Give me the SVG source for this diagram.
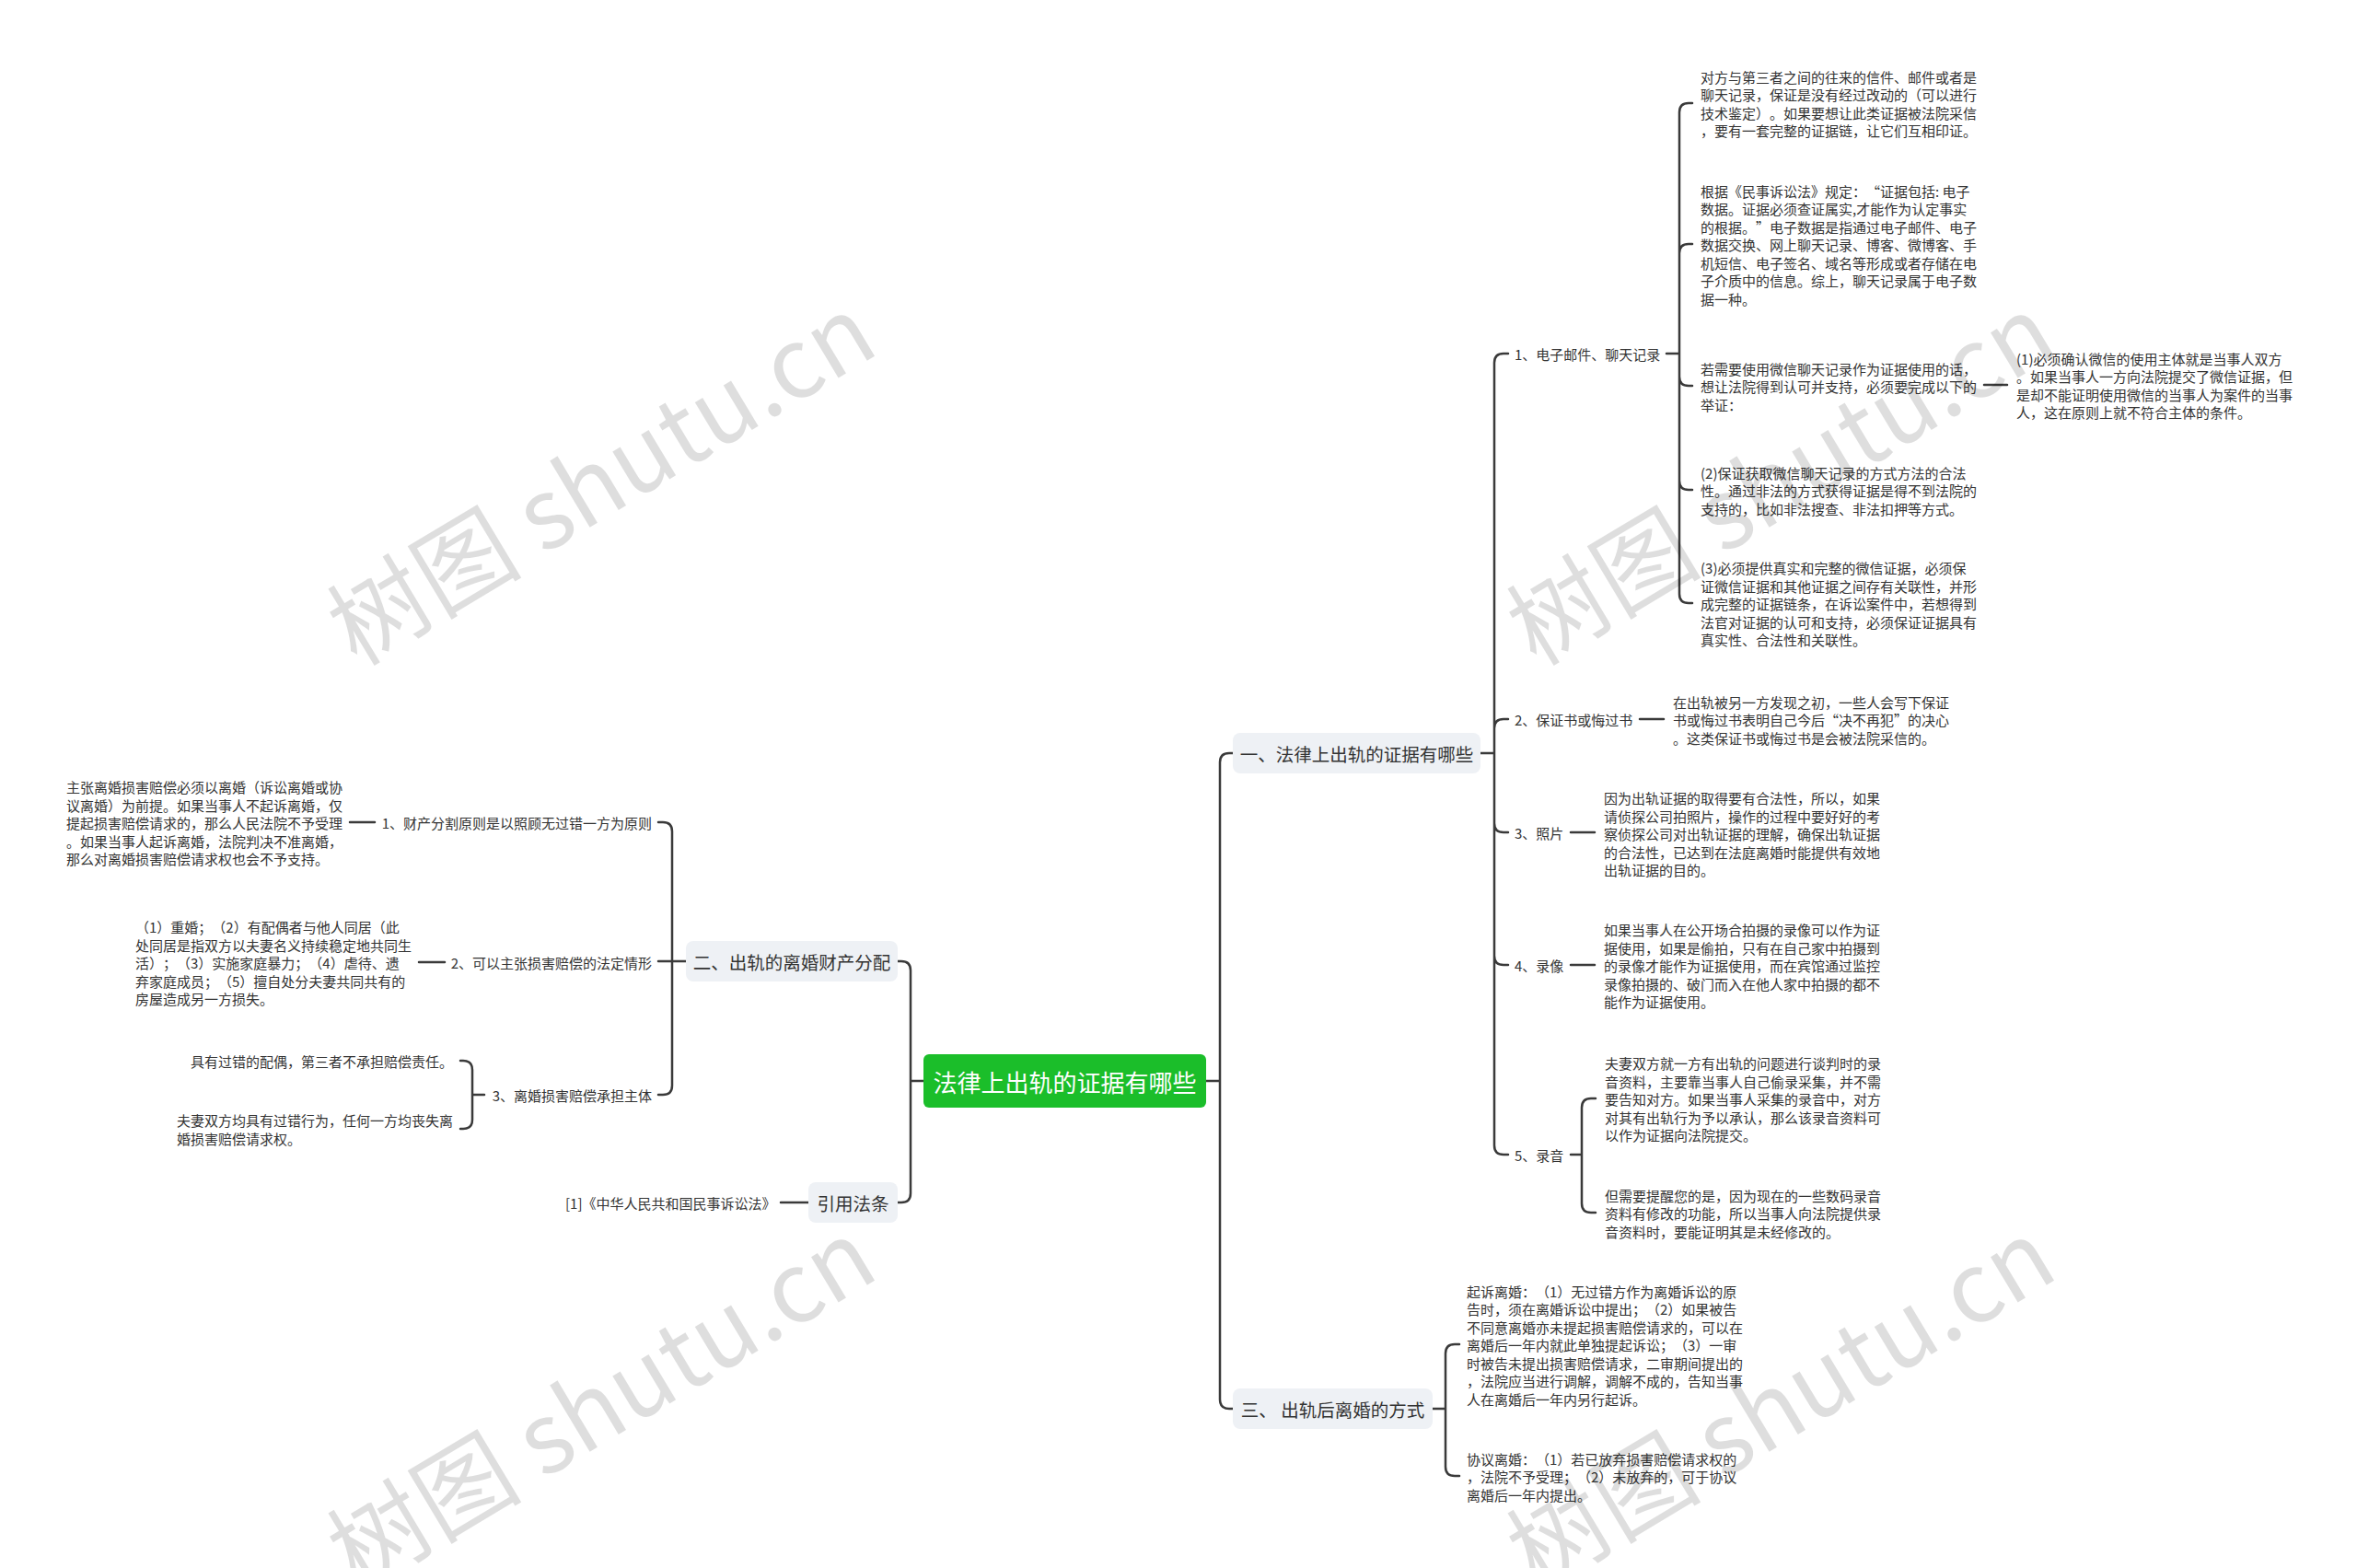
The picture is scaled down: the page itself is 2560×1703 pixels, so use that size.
<svg xmlns="http://www.w3.org/2000/svg" width="2560" height="1703" viewBox="0 0 2560 1703">
<style>
text{font-family:"Noto Sans CJK SC","Noto Sans",sans-serif;dominant-baseline:central;fill:#333;text-spacing-trim:space-all}
.t{font-size:15px}
.br{font-size:19.5px;text-anchor:middle}
.rt{font-size:26px;fill:#fff;text-anchor:middle}
.box{fill:#eef1f5}
.c path{fill:none;stroke:#3a3a3a;stroke-width:2.5;stroke-linecap:round}
.wm{font-size:106px;fill:#000;fill-opacity:.13;text-anchor:middle}
</style>
<rect width="2560" height="1703" fill="#fff"/>
<g id="connectors" class="c">
<path d="M1310,1174 H1325 M1325,1174 V828 Q1325,818 1335,818 H1339 M1325,1174 V1520 Q1325,1530 1335,1530 H1339"/>
<path d="M1003,1174 H989 M989,1174 V1054 Q989,1044 979,1044 H975 M989,1174 V1296 Q989,1306 979,1306 H975"/>
<path d="M1608,818 H1623 M1623,818 V394 Q1623,384 1633,384 H1638 M1623,818 V791 Q1623,781 1633,781 H1638 M1623,818 V894 Q1623,904 1633,904 H1638 M1623,818 V1038 Q1623,1048 1633,1048 H1638 M1623,818 V1244 Q1623,1254 1633,1254 H1638"/>
<path d="M1810,384 H1824 M1824,384 V122 Q1824,112 1834,112 H1838 M1824,384 V275 Q1824,265 1834,265 H1838 M1824,384 V409 Q1824,419 1834,419 H1838 M1824,384 V522 Q1824,532 1834,532 H1838 M1824,384 V645 Q1824,655 1834,655 H1838"/>
<path d="M2155,418 H2180"/>
<path d="M1781,781 H1807"/>
<path d="M1706,904 H1732"/>
<path d="M1706,1048 H1732"/>
<path d="M1706,1254 H1718 M1718,1254 V1203 Q1718,1193 1728,1193 H1733 M1718,1254 V1307 Q1718,1317 1728,1317 H1733"/>
<path d="M1556,1530 H1570 M1570,1530 V1470 Q1570,1460 1580,1460 H1585 M1570,1530 V1593 Q1570,1603 1580,1603 H1585"/>
<path d="M745,1044 H730 M730,1044 V903 Q730,893 720,893 H715 M730,1044 H715 M730,1044 V1179 Q730,1189 720,1189 H715"/>
<path d="M407,893 H380"/>
<path d="M483,1045 H455"/>
<path d="M526,1189 H513 M513,1189 V1162 Q513,1152 503,1152 H500 M513,1189 V1216 Q513,1226 503,1226 H500"/>
<path d="M848,1306 H878"/>
</g>
<g id="root">
<rect x="1003" y="1145" width="307" height="58" rx="6" fill="#1bbe2a"/>
<text class="rt" x="1156.5" y="1174">法律上出轨的证据有哪些</text>
</g>
<g id="b1">
<rect class="box" x="1339" y="796" width="269" height="44" rx="8"/>
<text class="br" x="1473.5" y="818">一、法律上出轨的证据有哪些</text>
</g>
<g id="b3">
<rect class="box" x="1339" y="1508" width="217" height="44" rx="8"/>
<text class="br" x="1447.5" y="1530">三、 出轨后离婚的方式</text>
</g>
<g id="b2">
<rect class="box" x="745" y="1022" width="230" height="44" rx="8"/>
<text class="br" x="860" y="1044">二、出轨的离婚财产分配</text>
</g>
<g id="b4">
<rect class="box" x="878" y="1284" width="97" height="44" rx="8"/>
<text class="br" x="926.5" y="1306">引用法条</text>
</g>
<g id="n1-1"><text class="t" x="1645" y="384">1、电子邮件、聊天记录</text></g>
<g id="n1-1a"><text class="t"><tspan x="1847" y="82.75">对方与第三者之间的往来的信件、邮件或者是</tspan><tspan x="1847" y="102.25">聊天记录，保证是没有经过改动的（可以进行</tspan><tspan x="1847" y="121.75">技术鉴定）。如果要想让此类证据被法院采信</tspan><tspan x="1847" y="141.25">，要有一套完整的证据链，让它们互相印证。</tspan></text></g>
<g id="n1-1b"><text class="t"><tspan x="1847" y="206.5">根据《民事诉讼法》规定：“证据包括: 电子</tspan><tspan x="1847" y="226">数据。证据必须查证属实,才能作为认定事实</tspan><tspan x="1847" y="245.5">的根据。”电子数据是指通过电子邮件、电子</tspan><tspan x="1847" y="265">数据交换、网上聊天记录、博客、微博客、手</tspan><tspan x="1847" y="284.5">机短信、电子签名、域名等形成或者存储在电</tspan><tspan x="1847" y="304">子介质中的信息。综上，聊天记录属于电子数</tspan><tspan x="1847" y="323.5">据一种。</tspan></text></g>
<g id="n1-1c"><text class="t"><tspan x="1847" y="399.5">若需要使用微信聊天记录作为证据使用的话，</tspan><tspan x="1847" y="419">想让法院得到认可并支持，必须要完成以下的</tspan><tspan x="1847" y="438.5">举证：</tspan></text></g>
<g id="n1-1c1"><text class="t"><tspan x="2190" y="388.75">(1)必须确认微信的使用主体就是当事人双方</tspan><tspan x="2190" y="408.25">。如果当事人一方向法院提交了微信证据，但</tspan><tspan x="2190" y="427.75">是却不能证明使用微信的当事人为案件的当事</tspan><tspan x="2190" y="447.25">人，这在原则上就不符合主体的条件。</tspan></text></g>
<g id="n1-1d"><text class="t"><tspan x="1847" y="512.5">(2)保证获取微信聊天记录的方式方法的合法</tspan><tspan x="1847" y="532">性。通过非法的方式获得证据是得不到法院的</tspan><tspan x="1847" y="551.5">支持的，比如非法搜查、非法扣押等方式。</tspan></text></g>
<g id="n1-1e"><text class="t"><tspan x="1847" y="616">(3)必须提供真实和完整的微信证据，必须保</tspan><tspan x="1847" y="635.5">证微信证据和其他证据之间存有关联性，并形</tspan><tspan x="1847" y="655">成完整的证据链条，在诉讼案件中，若想得到</tspan><tspan x="1847" y="674.5">法官对证据的认可和支持，必须保证证据具有</tspan><tspan x="1847" y="694">真实性、合法性和关联性。</tspan></text></g>
<g id="n1-2"><text class="t" x="1645" y="781">2、保证书或悔过书</text></g>
<g id="n1-2a"><text class="t"><tspan x="1817" y="761.5">在出轨被另一方发现之初，一些人会写下保证</tspan><tspan x="1817" y="781">书或悔过书表明自己今后“决不再犯”的决心</tspan><tspan x="1817" y="800.5">。这类保证书或悔过书是会被法院采信的。</tspan></text></g>
<g id="n1-3"><text class="t" x="1645" y="904">3、照片</text></g>
<g id="n1-3a"><text class="t"><tspan x="1742" y="866">因为出轨证据的取得要有合法性，所以，如果</tspan><tspan x="1742" y="885.5">请侦探公司拍照片，操作的过程中要好好的考</tspan><tspan x="1742" y="905">察侦探公司对出轨证据的理解，确保出轨证据</tspan><tspan x="1742" y="924.5">的合法性，已达到在法庭离婚时能提供有效地</tspan><tspan x="1742" y="944">出轨证据的目的。</tspan></text></g>
<g id="n1-4"><text class="t" x="1645" y="1048">4、录像</text></g>
<g id="n1-4a"><text class="t"><tspan x="1742" y="1009">如果当事人在公开场合拍摄的录像可以作为证</tspan><tspan x="1742" y="1028.5">据使用，如果是偷拍，只有在自己家中拍摄到</tspan><tspan x="1742" y="1048">的录像才能作为证据使用，而在宾馆通过监控</tspan><tspan x="1742" y="1067.5">录像拍摄的、破门而入在他人家中拍摄的都不</tspan><tspan x="1742" y="1087">能作为证据使用。</tspan></text></g>
<g id="n1-5"><text class="t" x="1645" y="1254">5、录音</text></g>
<g id="n1-5a"><text class="t"><tspan x="1743" y="1154">夫妻双方就一方有出轨的问题进行谈判时的录</tspan><tspan x="1743" y="1173.5">音资料，主要靠当事人自己偷录采集，并不需</tspan><tspan x="1743" y="1193">要告知对方。如果当事人采集的录音中，对方</tspan><tspan x="1743" y="1212.5">对其有出轨行为予以承认，那么该录音资料可</tspan><tspan x="1743" y="1232">以作为证据向法院提交。</tspan></text></g>
<g id="n1-5b"><text class="t"><tspan x="1743" y="1297.5">但需要提醒您的是，因为现在的一些数码录音</tspan><tspan x="1743" y="1317">资料有修改的功能，所以当事人向法院提供录</tspan><tspan x="1743" y="1336.5">音资料时，要能证明其是未经修改的。</tspan></text></g>
<g id="n3-1"><text class="t"><tspan x="1593" y="1401.5">起诉离婚：（1）无过错方作为离婚诉讼的原</tspan><tspan x="1593" y="1421">告时，须在离婚诉讼中提出；（2）如果被告</tspan><tspan x="1593" y="1440.5">不同意离婚亦未提起损害赔偿请求的，可以在</tspan><tspan x="1593" y="1460">离婚后一年内就此单独提起诉讼；（3）一审</tspan><tspan x="1593" y="1479.5">时被告未提出损害赔偿请求，二审期间提出的</tspan><tspan x="1593" y="1499">，法院应当进行调解，调解不成的，告知当事</tspan><tspan x="1593" y="1518.5">人在离婚后一年内另行起诉。</tspan></text></g>
<g id="n3-2"><text class="t"><tspan x="1593" y="1583.5">协议离婚：（1）若已放弃损害赔偿请求权的</tspan><tspan x="1593" y="1603">，法院不予受理；（2）未放弃的，可于协议</tspan><tspan x="1593" y="1622.5">离婚后一年内提出。</tspan></text></g>
<g id="n2-1"><text class="t" x="708" y="893" text-anchor="end">1、财产分割原则是以照顾无过错一方为原则</text></g>
<g id="n2-1a"><text class="t"><tspan x="72" y="854">主张离婚损害赔偿必须以离婚（诉讼离婚或协</tspan><tspan x="72" y="873.5">议离婚）为前提。如果当事人不起诉离婚，仅</tspan><tspan x="72" y="893">提起损害赔偿请求的，那么人民法院不予受理</tspan><tspan x="72" y="912.5">。如果当事人起诉离婚，法院判决不准离婚，</tspan><tspan x="72" y="932">那么对离婚损害赔偿请求权也会不予支持。</tspan></text></g>
<g id="n2-2"><text class="t" x="708" y="1045" text-anchor="end">2、可以主张损害赔偿的法定情形</text></g>
<g id="n2-2a"><text class="t"><tspan x="147" y="1006">（1）重婚；（2）有配偶者与他人同居（此</tspan><tspan x="147" y="1025.5">处同居是指双方以夫妻名义持续稳定地共同生</tspan><tspan x="147" y="1045">活）；（3）实施家庭暴力；（4）虐待、遗</tspan><tspan x="147" y="1064.5">弃家庭成员；（5）擅自处分夫妻共同共有的</tspan><tspan x="147" y="1084">房屋造成另一方损失。</tspan></text></g>
<g id="n2-3"><text class="t" x="708" y="1189" text-anchor="end">3、离婚损害赔偿承担主体</text></g>
<g id="n2-3a"><text class="t" x="207" y="1152">具有过错的配偶，第三者不承担赔偿责任。</text></g>
<g id="n2-3b"><text class="t"><tspan x="192" y="1216.25">夫妻双方均具有过错行为，任何一方均丧失离</tspan><tspan x="192" y="1235.75">婚损害赔偿请求权。</tspan></text></g>
<g id="n4-1"><text class="t" x="614" y="1306">[1]《中华人民共和国民事诉讼法》</text></g>
<g id="watermark">
<text class="wm" transform="translate(649,514) rotate(-31)">树图 shutu.cn</text>
<text class="wm" transform="translate(1930,514) rotate(-31)">树图 shutu.cn</text>
<text class="wm" transform="translate(649,1518) rotate(-31)">树图 shutu.cn</text>
<text class="wm" transform="translate(1930,1518) rotate(-31)">树图 shutu.cn</text>
</g>
</svg>
